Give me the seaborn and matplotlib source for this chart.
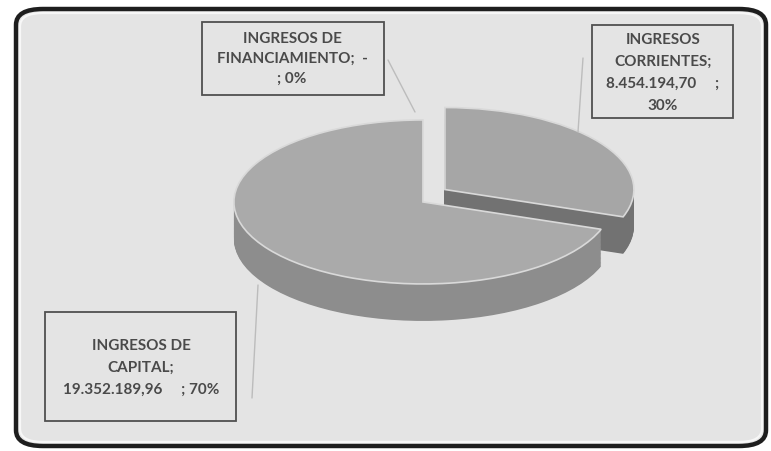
import matplotlib
matplotlib.use("Agg")
import matplotlib.pyplot as plt
from matplotlib.patches import FancyBboxPatch, Rectangle
from matplotlib.lines import Line2D
import seaborn as sns
import numpy as np

# ---- data ----
categories = ["INGRESOS CORRIENTES", "INGRESOS DE CAPITAL", "INGRESOS DE FINANCIAMIENTO"]
values = [8454194.70, 19352189.96, 0.0]
value_labels = ["8.454.194,70", "19.352.189,96", "-"]
percent_labels = ["30%", "70%", "0%"]

sns.set_theme(style="white")
plt.rcParams['font.family'] = ['Lato', 'DejaVu Sans']

W, H = 771, 451
fig = plt.figure(figsize=(W / 100, H / 100), dpi=100)
fig.patch.set_facecolor("white")
ax = fig.add_axes([0, 0, 1, 1])

def fx(px):
    return px / W

def fy(py):
    return 1 - py / H

# ---- frame ----
frame = FancyBboxPatch((fx(16), fy(446)), fx(750), (437) / H,
                       boxstyle="round,pad=0,rounding_size=0.035",
                       transform=fig.transFigure, facecolor="#e4e4e4",
                       edgecolor="#1e1e1e", linewidth=3.2, zorder=0.1)
ax.add_patch(frame)
inner = FancyBboxPatch((fx(20), fy(442)), fx(742), (429) / H,
                       boxstyle="round,pad=0,rounding_size=0.03",
                       transform=fig.transFigure, facecolor="none",
                       edgecolor="#f7f7f7", linewidth=1.6, zorder=0.2)
ax.add_patch(inner)

# ---- pseudo-3D pie ----
cx, cy = 426, 201      # pixel centre
a_px, b_px = 189, 82   # pixel radii
depth = 37 / b_px
explode = [0.0, 0.02, 0.0]
slice_offset = (0.10, 0.14)   # lift of the exploded first slice (data units)
pal_top = ["#a6a6a6", "#aaaaaa", "#aaaaaa"]
pal_side = ["#727272", "#8d8d8d", "#8d8d8d"]

def draw_layer(d, colors, wp):
    wedges, _ = ax.pie(values, startangle=90, counterclock=False, explode=explode,
                       center=(0, -d), colors=colors, wedgeprops=wp)
    wedges[0].set_center((slice_offset[0], slice_offset[1] - d))
    for w, v in zip(wedges, values):
        if v == 0:
            w.set_linewidth(0)
            w.set_visible(False)
    return wedges

n_layers = 45
for k in range(n_layers, 0, -1):
    d = depth * k / n_layers
    draw_layer(d, pal_side, dict(linewidth=0, zorder=1 + (n_layers - k) * 0.001))
draw_layer(0, pal_top, dict(linewidth=1.2, edgecolor="#d9d9d9", zorder=2))

ax.set_aspect("auto")
ax.set_xlim(-cx / a_px, (W - cx) / a_px)
ax.set_ylim((cy - H) / b_px, cy / b_px)
ax.set_axis_off()

# ---- leader lines ----
for (x0, y0), (x1, y1) in [((388, 60), (415, 112)),
                           ((583, 58), (578, 132)),
                           ((258, 285), (252, 398))]:
    ax.add_line(Line2D([fx(x0), fx(x1)], [fy(y0), fy(y1)], transform=fig.transFigure,
                       color="#bcbcbc", linewidth=1.0, zorder=3))

# ---- label boxes ----
txt_color = "#4a4a4a"
boxes = [
    (592, 25, 733, 118, 663,
     ["INGRESOS", "CORRIENTES;", value_labels[0] + "     ;", percent_labels[0]],
     [40, 62, 84, 106]),
    (45, 312, 236, 421, 141,
     ["INGRESOS DE", "CAPITAL;", value_labels[1] + "     ; " + percent_labels[1]],
     [346, 368, 390]),
    (202, 22, 384, 95, 292,
     ["INGRESOS DE", "FINANCIAMIENTO;  " + value_labels[2], "; " + percent_labels[2]],
     [39, 59, 79]),
]
for x0, y0, x1, y1, xc, lines, ys in boxes:
    ax.add_patch(Rectangle((fx(x0), fy(y1)), fx(x1 - x0), (y1 - y0) / H,
                           transform=fig.transFigure, facecolor="none",
                           edgecolor="#505050", linewidth=1.3, zorder=4))
    for line, yy in zip(lines, ys):
        ax.text(fx(xc), fy(yy), line, transform=fig.transFigure, ha="center",
                va="center", fontsize=11, fontweight="bold", color=txt_color, zorder=5)

fig.savefig("out.png", dpi=100)
